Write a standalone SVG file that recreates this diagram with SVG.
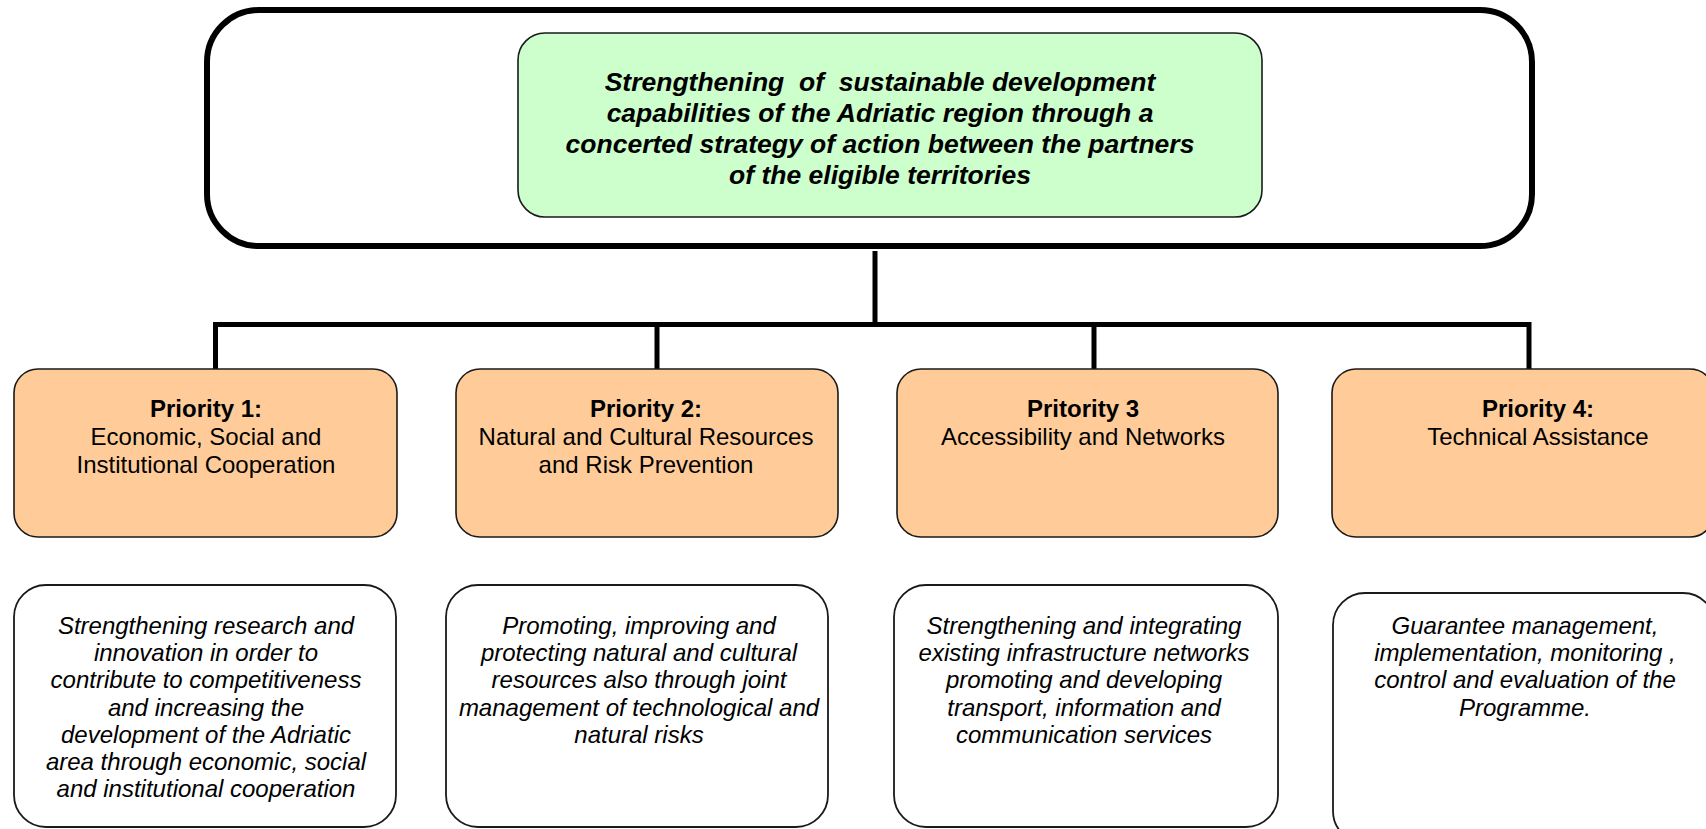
<svg xmlns="http://www.w3.org/2000/svg" width="1706" height="829" viewBox="0 0 1706 829">
<style>
.outer{fill:#ffffff;stroke:#000;stroke-width:6}
.goal{fill:#ccffcc;stroke:#1a1a1a;stroke-width:1.6}
.prio{fill:#ffcc99;stroke:#1a1a1a;stroke-width:1.6}
.desc{fill:#ffffff;stroke:#1a1a1a;stroke-width:1.8}
.conn{fill:none;stroke:#000;stroke-width:5}
.t-goal{font-family:"Liberation Sans",Arial,sans-serif;font-size:26.5px;font-weight:bold;font-style:italic;text-anchor:middle;fill:#000}
.t-prio{font-family:"Liberation Sans",Arial,sans-serif;font-size:24px;text-anchor:middle;fill:#000}
.t-prio-b{font-weight:bold}
.t-desc{font-family:"Liberation Sans",Arial,sans-serif;font-size:24px;font-style:italic;text-anchor:middle;fill:#000}
</style>
<rect x="0" y="0" width="1706" height="829" fill="#ffffff"/>
<g id="overall">
<rect class="outer" x="207" y="10" width="1325" height="236" rx="52" ry="52"/>
</g>
<g id="goal">
<rect class="goal" x="518" y="33" width="744" height="184" rx="27" ry="27"/>
<text class="t-goal" x="880" xml:space="preserve"><tspan x="880" y="91">Strengthening  of  sustainable development</tspan><tspan x="880" y="122">capabilities of the Adriatic region through a</tspan><tspan x="880" y="153">concerted strategy of action between the partners</tspan><tspan x="880" y="184">of the eligible territories</tspan></text>
</g>
<g id="connectors">
<line class="conn" x1="875" y1="251" x2="875" y2="324"/>
<polyline class="conn" points="215.5,370 215.5,324.5 1529,324.5 1529,370"/>
<line class="conn" x1="657" y1="324" x2="657" y2="370"/>
<line class="conn" x1="1094" y1="324" x2="1094" y2="370"/>
</g>
<g id="priority1">
<rect class="prio" x="14" y="369" width="383" height="168" rx="24" ry="24"/>
<text class="t-prio"><tspan class="t-prio-b" x="206" y="417">Priority 1:</tspan><tspan x="206" y="445">Economic, Social and</tspan><tspan x="206" y="473">Institutional Cooperation</tspan></text>
</g>
<g id="priority2">
<rect class="prio" x="456" y="369" width="382" height="168" rx="24" ry="24"/>
<text class="t-prio"><tspan class="t-prio-b" x="646" y="417">Priority 2:</tspan><tspan x="646" y="445">Natural and Cultural Resources</tspan><tspan x="646" y="473">and Risk Prevention</tspan></text>
</g>
<g id="priority3">
<rect class="prio" x="897" y="369" width="381" height="168" rx="24" ry="24"/>
<text class="t-prio"><tspan class="t-prio-b" x="1083" y="417">Pritority 3</tspan><tspan x="1083" y="445">Accessibility and Networks</tspan></text>
</g>
<g id="priority4">
<rect class="prio" x="1332" y="369" width="382" height="168" rx="24" ry="24"/>
<text class="t-prio"><tspan class="t-prio-b" x="1538" y="417">Priority 4:</tspan><tspan x="1538" y="445">Technical Assistance</tspan></text>
</g>
<g id="objective1">
<rect class="desc" x="14" y="585" width="382" height="242" rx="32" ry="32"/>
<text class="t-desc"><tspan x="206" y="634">Strengthening research and</tspan><tspan x="206" y="661">innovation in order to</tspan><tspan x="206" y="688">contribute to competitiveness</tspan><tspan x="206" y="716">and increasing the</tspan><tspan x="206" y="743">development of the Adriatic</tspan><tspan x="206" y="770">area through economic, social</tspan><tspan x="206" y="797">and institutional cooperation</tspan></text>
</g>
<g id="objective2">
<rect class="desc" x="446" y="585" width="382" height="242" rx="32" ry="32"/>
<text class="t-desc"><tspan x="639" y="634">Promoting, improving and</tspan><tspan x="639" y="661">protecting natural and cultural</tspan><tspan x="639" y="688">resources also through joint</tspan><tspan x="639" y="716">management of technological and</tspan><tspan x="639" y="743">natural risks</tspan></text>
</g>
<g id="objective3">
<rect class="desc" x="894" y="585" width="384" height="242" rx="32" ry="32"/>
<text class="t-desc"><tspan x="1084" y="634">Strengthening and integrating</tspan><tspan x="1084" y="661">existing infrastructure networks</tspan><tspan x="1084" y="688">promoting and developing</tspan><tspan x="1084" y="716">transport, information and</tspan><tspan x="1084" y="743">communication services</tspan></text>
</g>
<g id="objective4">
<rect class="desc" x="1333" y="593" width="382" height="250" rx="32" ry="32"/>
<text class="t-desc"><tspan x="1525" y="634">Guarantee management,</tspan><tspan x="1525" y="661">implementation, monitoring ,</tspan><tspan x="1525" y="688">control and evaluation of the</tspan><tspan x="1525" y="716">Programme.</tspan></text>
</g>
</svg>
